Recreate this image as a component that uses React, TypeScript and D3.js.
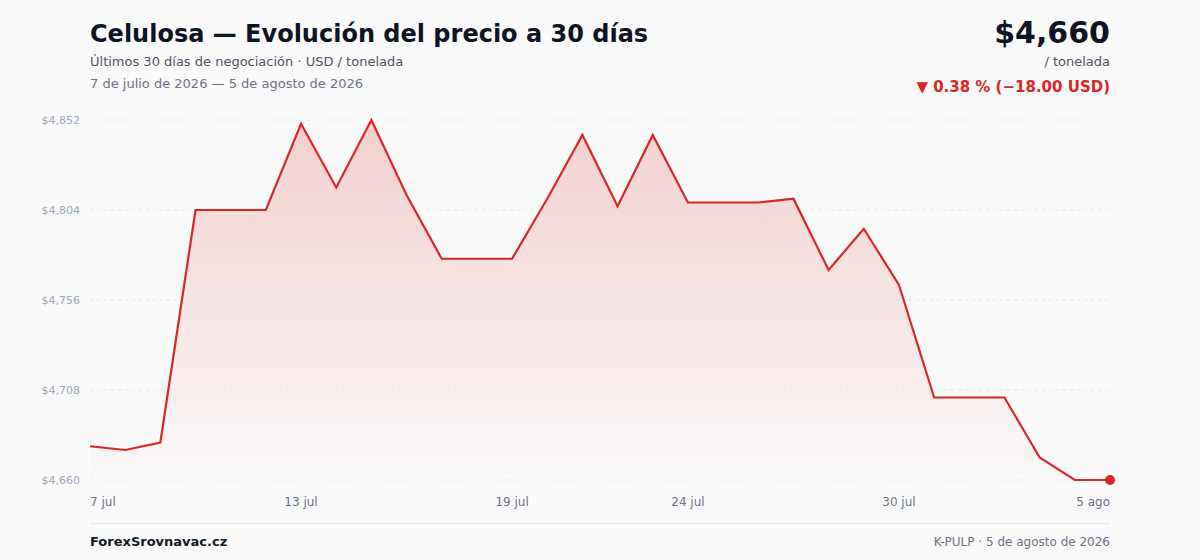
import { useEffect, useRef } from 'react';
import * as d3 from 'd3';

// Daily closing prices, USD / tonelada
const dates: string[] = [
  '2026-07-07', '2026-07-08', '2026-07-09', '2026-07-10', '2026-07-11', '2026-07-12',
  '2026-07-13', '2026-07-14', '2026-07-15', '2026-07-16', '2026-07-17', '2026-07-18',
  '2026-07-19', '2026-07-20', '2026-07-21', '2026-07-22', '2026-07-23', '2026-07-24',
  '2026-07-25', '2026-07-26', '2026-07-27', '2026-07-28', '2026-07-29', '2026-07-30',
  '2026-07-31', '2026-08-01', '2026-08-02', '2026-08-03', '2026-08-04', '2026-08-05',
];
const prices: number[] = [
  4678, 4676, 4680, 4804, 4804, 4804,
  4850, 4816, 4852, 4812, 4778, 4778,
  4778, 4810, 4844, 4806, 4844, 4808,
  4808, 4808, 4810, 4772, 4794, 4764,
  4704, 4704, 4704, 4672, 4660, 4660,
];
const yTicks: number[] = [4660, 4708, 4756, 4804, 4852];
const xTickDates: string[] = ['2026-07-07', '2026-07-13', '2026-07-19', '2026-07-24', '2026-07-30', '2026-08-05'];
const xTickLabels: string[] = ['7 jul', '13 jul', '19 jul', '24 jul', '30 jul', '5 ago'];

const WIDTH = 1200;
const HEIGHT = 560;
const FONT = 'DejaVu Sans, Verdana, sans-serif';
const RED = '#dc2626';

export default function App() {
  const svgRef = useRef<SVGSVGElement>(null);

  useEffect(() => {
    if (!svgRef.current) return;
    const svg = d3.select(svgRef.current);
    svg.selectAll('*').remove();

    const parse = d3.timeParse('%Y-%m-%d');
    const data = dates.map((d, i) => ({ date: parse(d) as Date, value: prices[i] }));

    const margin = { top: 120, right: 90, bottom: 80, left: 90 };
    const x = d3.scaleTime()
      .domain(d3.extent(data, (d) => d.date) as [Date, Date])
      .range([margin.left, WIDTH - margin.right]);
    const y = d3.scaleLinear()
      .domain([4660, 4852])
      .range([HEIGHT - margin.bottom, margin.top]);

    svg.append('rect').attr('width', WIDTH).attr('height', HEIGHT).attr('fill', '#fafafa');

    const defs = svg.append('defs');
    const grad = defs.append('linearGradient')
      .attr('id', 'areaFill')
      .attr('x1', 0).attr('y1', 0).attr('x2', 0).attr('y2', 1);
    grad.append('stop').attr('offset', '0%').attr('stop-color', RED).attr('stop-opacity', 0.2);
    grad.append('stop').attr('offset', '100%').attr('stop-color', RED).attr('stop-opacity', 0.01);

    // Area under the line
    const area = d3.area<{ date: Date; value: number }>()
      .x((d) => x(d.date))
      .y0(y(4660))
      .y1((d) => y(d.value));
    svg.append('path').datum(data).attr('d', area).attr('fill', 'url(#areaFill)');

    // Gridlines + y labels
    const grid = svg.append('g');
    yTicks.forEach((t) => {
      grid.append('line')
        .attr('x1', margin.left).attr('x2', WIDTH - margin.right)
        .attr('y1', y(t)).attr('y2', y(t))
        .attr('stroke', '#e2e5ea')
        .attr('stroke-width', 1)
        .attr('stroke-dasharray', '3,4');
      grid.append('text')
        .attr('x', margin.left - 10)
        .attr('y', y(t) + 4)
        .attr('text-anchor', 'end')
        .attr('fill', '#9aa6ba')
        .attr('font-size', 11)
        .attr('font-family', FONT)
        .text(d3.format('$,')(t));
    });

    const line = d3.line<{ date: Date; value: number }>()
      .x((d) => x(d.date))
      .y((d) => y(d.value));
    svg.append('path').datum(data)
      .attr('d', line)
      .attr('fill', 'none')
      .attr('stroke', RED)
      .attr('stroke-width', 2.2)
      .attr('stroke-linejoin', 'miter');

    const last = data[data.length - 1];
    svg.append('circle')
      .attr('cx', x(last.date)).attr('cy', y(last.value))
      .attr('r', 5).attr('fill', RED);

    // X axis labels
    xTickDates.forEach((d, i) => {
      const anchor = i === 0 ? 'start' : i === xTickDates.length - 1 ? 'end' : 'middle';
      svg.append('text')
        .attr('x', x(parse(d) as Date))
        .attr('y', 506)
        .attr('text-anchor', anchor)
        .attr('fill', '#6b7385')
        .attr('font-size', 12)
        .attr('font-family', FONT)
        .text(xTickLabels[i]);
    });

    // Footer
    svg.append('line')
      .attr('x1', margin.left).attr('x2', WIDTH - margin.right)
      .attr('y1', 523.5).attr('y2', 523.5)
      .attr('stroke', '#e8eaee').attr('stroke-width', 1.5);
    svg.append('text')
      .attr('x', margin.left).attr('y', 546)
      .attr('fill', '#111827').attr('font-size', 13).attr('font-weight', 'bold')
      .attr('font-family', FONT)
      .text('ForexSrovnavac.cz');
    svg.append('text')
      .attr('x', WIDTH - margin.right).attr('y', 546)
      .attr('text-anchor', 'end')
      .attr('fill', '#6b7385').attr('font-size', 12)
      .attr('font-family', FONT)
      .text('K-PULP · 5 de agosto de 2026');

    // Header
    svg.append('text')
      .attr('x', margin.left).attr('y', 42)
      .attr('fill', '#0f1424').attr('font-size', 24).attr('font-weight', 'bold')
      .attr('font-family', FONT)
      .text('Celulosa — Evolución del precio a 30 días');
    svg.append('text')
      .attr('x', margin.left).attr('y', 66)
      .attr('fill', '#4b5466').attr('font-size', 13)
      .attr('font-family', FONT)
      .text('Últimos 30 días de negociación · USD / tonelada');
    svg.append('text')
      .attr('x', margin.left).attr('y', 88)
      .attr('fill', '#6b7385').attr('font-size', 13)
      .attr('font-family', FONT)
      .text('7 de julio de 2026 — 5 de agosto de 2026');

    const first = data[0];
    const diff = last.value - first.value;
    const pct = Math.abs(diff / first.value) * 100;
    svg.append('text')
      .attr('x', WIDTH - margin.right).attr('y', 43)
      .attr('text-anchor', 'end')
      .attr('fill', '#0f1424').attr('font-size', 30).attr('font-weight', 'bold')
      .attr('font-family', FONT)
      .text(d3.format('$,')(last.value));
    svg.append('text')
      .attr('x', WIDTH - margin.right).attr('y', 66)
      .attr('text-anchor', 'end')
      .attr('fill', '#4b5466').attr('font-size', 13)
      .attr('font-family', FONT)
      .text('/ tonelada');
    svg.append('text')
      .attr('x', WIDTH - margin.right).attr('y', 92)
      .attr('text-anchor', 'end')
      .attr('fill', RED).attr('font-size', 15).attr('font-weight', 'bold')
      .attr('font-family', FONT)
      .text(`▼ ${pct.toFixed(2)} % (−${Math.abs(diff).toFixed(2)} USD)`);
  }, []);

  return (
    <div style={{ position: 'absolute', top: 0, left: 0, width: WIDTH, height: HEIGHT, overflow: 'hidden' }}>
      <svg ref={svgRef} width={WIDTH} height={HEIGHT} style={{ display: 'block' }} />
    </div>
  );
}
